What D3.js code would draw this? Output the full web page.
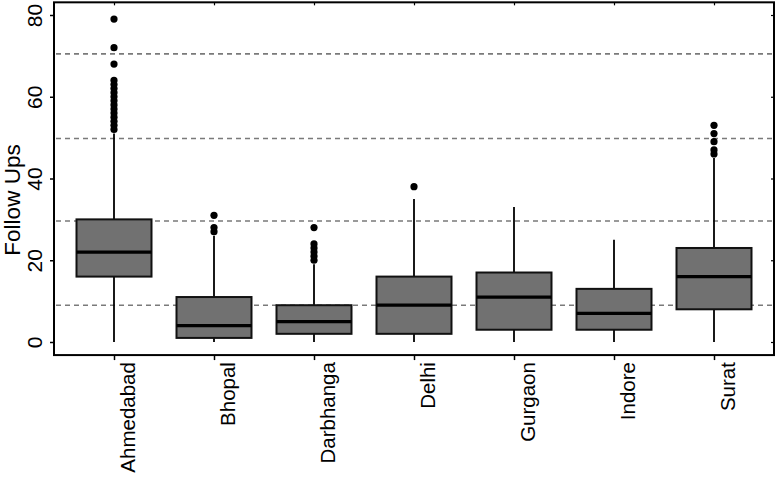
<!DOCTYPE html>
<html><head><meta charset="utf-8">
<script src="https://cdn.jsdelivr.net/npm/d3@7"></script>
<style>body{margin:0;background:#fff}svg{display:block}text{font-family:"Liberation Sans",Arial,sans-serif}</style>
</head><body>
<svg id="c" width="778" height="478"></svg>
<script>
const categories = ["Ahmedabad","Bhopal","Darbhanga","Delhi","Gurgaon","Indore","Surat"];
const whiskerLow = [0,0,0,0,0,0,0];
const q1 = [16,1,2,2,3,3,8];
const median = [22,4,5,9,11,7,16];
const q3 = [30,11,9,16,17,13,23];
const whiskerHigh = [51,26,19,35,33,25,45];
const outliers = [
  [52,53,54,55,56,57,58,59,60,61,62,63,64,68,72,79],
  [27,28,31],
  [20,21,22,23,24,28],
  [38],
  [],
  [],
  [46,47,49,51,53]
];
const yTicks = [0,20,40,60,80];
const refLines = [9,29.6,49.8,70.5];
const yTitle = "Follow Ups";

(function(){
const svg = d3.select("#c");
const x = d3.scaleLinear().domain([0.4, 7.6]).range([54, 774]);
const y = d3.scaleLinear().domain([0, 80]).range([342, 15]);
const pTop = y(83.1), pBottom = y(-3.2), pLeft = x(0.4), pRight = x(7.6);
const bw = 0.75;

svg.append("g").selectAll("line").data(refLines).join("line")
  .attr("x1", pLeft+2).attr("x2", pRight-1)
  .attr("y1", d=>y(d)).attr("y2", d=>y(d))
  .attr("stroke", "#7a7a7a").attr("stroke-width", 1.6).attr("stroke-dasharray", "5,4");

const g = svg.append("g");
categories.forEach((c, i) => {
  const cx = x(i+1);
  g.append("line").attr("x1", cx).attr("x2", cx).attr("y1", y(whiskerLow[i])).attr("y2", y(q1[i]))
    .attr("stroke", "#000").attr("stroke-width", 1.8);
  g.append("line").attr("x1", cx).attr("x2", cx).attr("y1", y(q3[i])).attr("y2", y(whiskerHigh[i]))
    .attr("stroke", "#000").attr("stroke-width", 1.8);
  g.append("rect").attr("x", x(i+1-bw/2)).attr("width", x(i+1+bw/2)-x(i+1-bw/2))
    .attr("y", y(q3[i])).attr("height", y(q1[i])-y(q3[i]))
    .attr("fill", "#717171").attr("stroke", "#111").attr("stroke-width", 2);
  g.append("line").attr("x1", x(i+1-bw/2)).attr("x2", x(i+1+bw/2))
    .attr("y1", y(median[i])).attr("y2", y(median[i]))
    .attr("stroke", "#000").attr("stroke-width", 3.2);
  g.selectAll(null).data(outliers[i]).join("circle")
    .attr("cx", cx).attr("cy", d=>y(d)).attr("r", 3.6).attr("fill", "#000");
});

svg.append("rect").attr("x", pLeft).attr("y", pTop).attr("width", pRight-pLeft).attr("height", pBottom-pTop)
  .attr("fill", "none").attr("stroke", "#000").attr("stroke-width", 2);

const yAxis = svg.append("g").attr("transform", `translate(${pLeft},0)`)
  .call(d3.axisLeft(y).tickValues(yTicks).tickSize(4).tickFormat(d3.format("d")));
yAxis.select(".domain").remove();
yAxis.selectAll(".tick line").attr("stroke", "#000").attr("stroke-width", 1.5);
yAxis.selectAll(".tick text").attr("font-size", 21).attr("fill", "#000")
  .attr("text-anchor", "middle").attr("x", 0).attr("dy", 0)
  .attr("transform", "translate(-12,0) rotate(-90)");

const yAxisR = svg.append("g").attr("transform", `translate(${pRight},0)`)
  .call(d3.axisRight(y).tickValues(yTicks).tickSize(-3).tickFormat(""));
yAxisR.select(".domain").remove();
yAxisR.selectAll(".tick line").attr("stroke", "#000").attr("stroke-width", 1.2);

const xAxis = svg.append("g").attr("transform", `translate(0,${pBottom})`)
  .call(d3.axisBottom(x).tickValues(d3.range(1, categories.length+1)).tickSize(5).tickFormat(d=>categories[d-1]));
xAxis.select(".domain").remove();
xAxis.selectAll(".tick line").attr("stroke", "#000").attr("stroke-width", 1.5);
xAxis.selectAll(".tick text").attr("font-size", 20.5).attr("fill", "#000")
  .attr("text-anchor", "end").attr("x", 0).attr("y", 0).attr("dy", 0)
  .attr("transform", "translate(20,7) rotate(-90)");

const xAxisT = svg.append("g").attr("transform", `translate(0,${pTop})`)
  .call(d3.axisTop(x).tickValues(d3.range(1, categories.length+1)).tickSize(-3).tickFormat(""));
xAxisT.select(".domain").remove();
xAxisT.selectAll(".tick line").attr("stroke", "#000").attr("stroke-width", 1.2);

svg.append("text").attr("transform", "translate(20,200) rotate(-90)")
  .attr("text-anchor", "middle").attr("font-size", 22.5).attr("fill", "#000").text(yTitle);
})();
</script>
</body></html>
